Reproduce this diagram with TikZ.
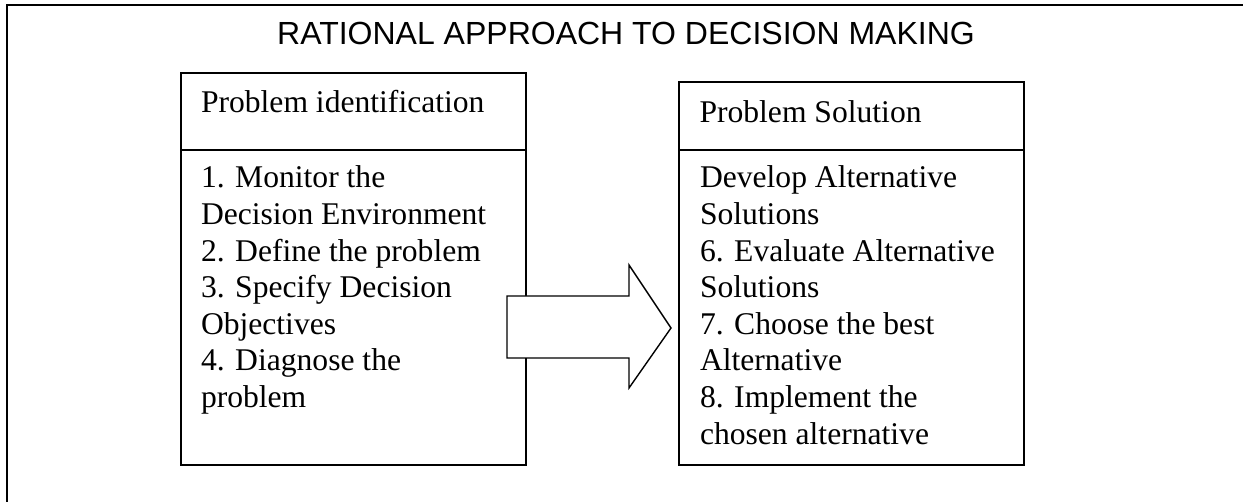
\documentclass[tikz,border=0pt]{standalone}
\usepackage{fontspec}
\setmainfont{Liberation Serif}
\newfontfamily\titlefont{Liberation Sans}
\begin{document}
\begin{tikzpicture}[x=1pt,y=-1pt,
  line/.style={line width=1.4pt, black},
  boxstyle/.style={draw, line width=1.4pt, anchor=north west, inner sep=0pt, outer sep=0pt},
  txt/.style={anchor=base west, inner sep=0pt, outer sep=0pt, font=\fontsize{31.6}{36.6}\selectfont},
  ttl/.style={anchor=base, inner sep=0pt, font=\titlefont\fontsize{32}{36}\selectfont}
]
\useasboundingbox (0,0) rectangle (1243,502);
% outer frame (cut off at right and bottom)
\draw[line] (7,502) -- (7,5) -- (1243,5);
% title
\node[ttl] (title) at (626,45) {RATIONAL APPROACH TO DECISION MAKING};
% left box
\node[boxstyle, minimum width=345pt, minimum height=392pt] (lbox) at (181,73) {};
\coordinate (ldivl) at (181,150);
\coordinate (ldivr) at (526,150);
\draw[line] (ldivl) -- (ldivr);
\node[txt] (lhead) at (201,113) {Problem identification};
\node[txt] (lbody) at (201,188) {\parbox[t]{320pt}{\raggedright
1. Monitor the\\
Decision Environment\\
2. Define the problem\\
3. Specify Decision\\
Objectives\\
4. Diagnose the\\
problem}};
% right box
\node[boxstyle, minimum width=345pt, minimum height=383pt] (rbox) at (679,82) {};
\coordinate (rdivl) at (679,150);
\coordinate (rdivr) at (1024,150);
\draw[line] (rdivl) -- (rdivr);
\node[txt] (rhead) at (699.5,123) {Problem Solution};
\node[txt] (rbody) at (700,188) {\parbox[t]{320pt}{\raggedright
Develop Alternative\\
Solutions\\
6. Evaluate Alternative\\
Solutions\\
7. Choose the best\\
Alternative\\
8. Implement the\\
chosen alternative}};
% block arrow
\draw[line, fill=white, line join=miter]
  (507,296) -- (629,296) -- (629,265) -- (671,328) -- (629,388) -- (629,358) -- (507,358) -- cycle;
\end{tikzpicture}
\end{document}
